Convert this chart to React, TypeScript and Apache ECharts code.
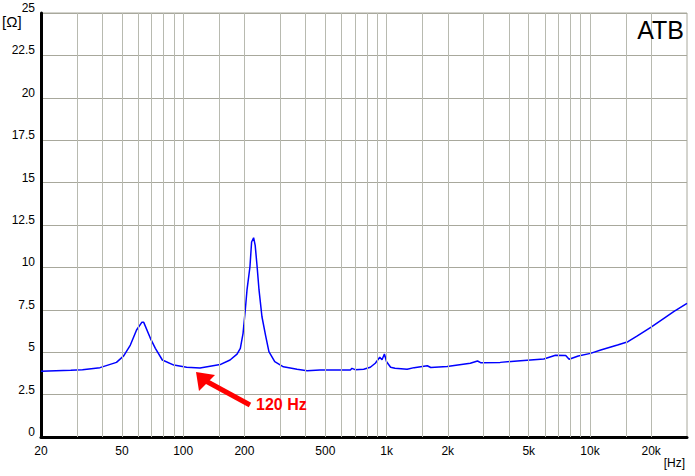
import React, { useEffect, useRef } from "react";
import * as echarts from "echarts";

const freqs = [20, 28, 32, 39, 47, 51, 55, 59, 62.6, 64, 69, 73, 79, 90, 104, 121, 152, 170, 184, 191, 197, 202, 206, 213, 217, 222, 226, 231, 236, 244, 254, 264, 282, 311, 363, 407, 470, 528, 664, 676, 700, 772, 832, 880, 926, 950, 976, 1000, 1047, 1100, 1262, 1366, 1585, 1650, 1985, 2580, 2800, 2900, 3620, 4560, 5930, 6770, 7600, 7900, 8760, 10060, 11300, 13660, 15370, 17100, 19900, 23100, 25800, 30000];
const impedance = [3.87, 3.93, 3.97, 4.09, 4.4, 4.78, 5.42, 6.31, 6.76, 6.76, 5.82, 5.23, 4.54, 4.24, 4.11, 4.07, 4.27, 4.54, 4.89, 5.23, 6.11, 7.49, 8.67, 10.04, 11.5, 11.75, 11.3, 10.04, 8.67, 7.09, 6.01, 5.03, 4.44, 4.14, 4.0, 3.91, 3.95, 3.95, 3.95, 4.05, 3.97, 3.99, 4.11, 4.35, 4.7, 4.55, 4.89, 4.44, 4.11, 4.05, 3.99, 4.09, 4.2, 4.1, 4.15, 4.35, 4.48, 4.38, 4.4, 4.5, 4.6, 4.82, 4.8, 4.58, 4.78, 4.93, 5.13, 5.42, 5.62, 5.96, 6.47, 7.0, 7.39, 7.88];

const gridFreqs = [30, 40, 50, 60, 70, 80, 90, 100, 150, 200, 300, 400, 500, 600, 700, 800, 900, 1000, 1500, 2000, 3000, 4000, 5000, 6000, 7000, 8000, 9000, 10000, 15000, 20000];
const xLabelFreqs = [20, 50, 100, 200, 500, 1000, 2000, 5000, 10000, 20000];
const xLabelTexts = ["20", "50", "100", "200", "500", "1k", "2k", "5k", "10k", "20k"];

const FONT = "'Liberation Sans', Arial, sans-serif";

export default function App() {
  const ref = useRef<HTMLDivElement>(null);
  useEffect(() => {
    if (!ref.current) return;
    const chart = echarts.init(ref.current, null, { renderer: "svg" });
    const option: any = {
      animation: false,
      backgroundColor: "#ffffff",
      grid: {
        left: 41,
        top: 13,
        right: 8,
        bottom: 39,
        show: true,
        borderColor: "#a8a89c",
        borderWidth: 1,
      },
      xAxis: {
        type: "log",
        logBase: 10,
        min: 20,
        max: 30000,
        axisLine: { show: true, onZero: false, lineStyle: { color: "#000", width: 3 } },
        axisTick: { show: false },
        axisLabel: { show: false },
        splitLine: { show: false },
      },
      yAxis: {
        type: "value",
        min: 0,
        max: 25,
        interval: 2.5,
        axisLine: { show: true, lineStyle: { color: "#000", width: 3 } },
        axisTick: { show: false },
        axisLabel: {
          color: "#000",
          fontSize: 12,
          fontFamily: FONT,
          margin: 6,
          verticalAlign: "bottom",
          lineHeight: 10,
        },
        splitLine: { show: true, lineStyle: { color: "#a8a89c", width: 1 } },
      },
      series: [
        {
          type: "line",
          data: [],
          z: 1,
          silent: true,
          markLine: {
            silent: true,
            symbol: "none",
            label: { show: false },
            lineStyle: { color: "#b8bab0", width: 1, type: "solid" },
            data: gridFreqs.map((f) => ({ xAxis: f })),
          },
        },
        {
          type: "line",
          z: 3,
          data: freqs.map((f, i) => [f, impedance[i]]),
          showSymbol: false,
          symbol: "none",
          lineStyle: { color: "#0000ff", width: 1.5 },
          silent: true,
        },
      ],
    };
    chart.setOption(option);

    const labelY = 451;
    const graphics: any[] = xLabelFreqs.map((f, i) => {
      const px = chart.convertToPixel({ xAxisIndex: 0 }, f) as number;
      return {
        type: "text",
        x: px,
        y: labelY,
        style: {
          text: xLabelTexts[i],
          fill: "#000",
          font: `12px ${FONT}`,
          textAlign: "center",
          textVerticalAlign: "middle",
        },
      };
    });
    graphics.push(
      {
        type: "text",
        x: 2,
        y: 21,
        style: { text: "[Ω]", fill: "#000", font: `15px ${FONT}`, textAlign: "left", textVerticalAlign: "middle" },
      },
      {
        type: "text",
        x: 685,
        y: 463,
        style: { text: "[Hz]", fill: "#000", font: `12px ${FONT}`, textAlign: "right", textVerticalAlign: "middle" },
      },
      {
        type: "text",
        x: 684,
        y: 30,
        z: 10,
        style: { text: "ATB", fill: "#000", font: `25px ${FONT}`, textAlign: "right", textVerticalAlign: "middle" },
      },
      {
        type: "line",
        z: 10,
        shape: { x1: 250, y1: 405, x2: 204, y2: 380 },
        style: { stroke: "#ff0000", lineWidth: 5 },
      },
      {
        type: "polygon",
        z: 10,
        shape: { points: [[196, 372], [215, 375], [199, 391]] },
        style: { fill: "#ff0000" },
      },
      {
        type: "text",
        x: 256,
        y: 404,
        z: 10,
        style: { text: "120 Hz", fill: "#ff0000", font: `bold 16px ${FONT}`, textAlign: "left", textVerticalAlign: "middle" },
      }
    );
    chart.setOption({ graphic: graphics });

    return () => chart.dispose();
  }, []);
  return <div ref={ref} style={{ position: "fixed", left: 0, top: 0, width: 695, height: 476 }} />;
}
